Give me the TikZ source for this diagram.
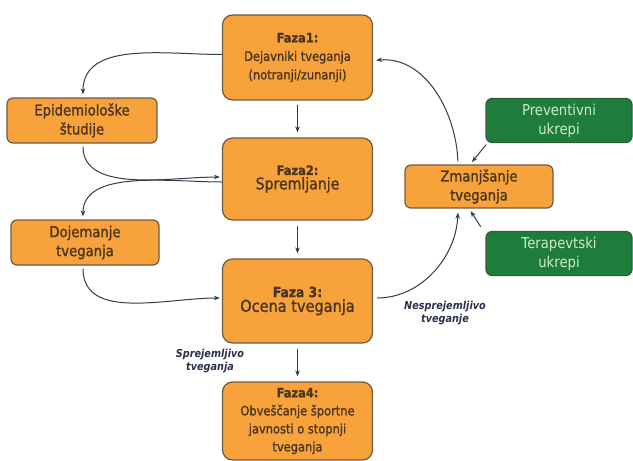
\documentclass[tikz,border=0pt]{standalone}
\usepackage{fontspec}
\setmainfont{DejaVu Sans}[FakeStretch=0.88]
\newfontfamily\boxfont{DejaVu Sans}[FakeStretch=0.88, FakeBold=1.2]
\usetikzlibrary{arrows.meta}
\definecolor{org}{HTML}{F7A23A}
\definecolor{orgborder}{HTML}{6E5B45}
\definecolor{grn}{HTML}{1F7D3B}
\definecolor{grnborder}{HTML}{2F5F3A}
\definecolor{grntext}{HTML}{CDEBC8}
\definecolor{txt}{HTML}{4A3522}
\definecolor{lin}{HTML}{333A4A}
\definecolor{lbl}{HTML}{2B2F48}
\begin{document}
\begin{tikzpicture}[x=1pt,y=-1pt,
  fazabox/.style={draw=orgborder, line width=1.2pt, fill=org, rounded corners=10pt,
    align=center, text=txt, inner sep=2pt, minimum width=150pt},
  sidebox/.style={draw=orgborder, line width=1.2pt, fill=org, rounded corners=6pt,
    align=center, text=txt, inner sep=2pt, minimum height=45pt,
    font=\boxfont\fontsize{15}{19}\selectfont},
  greenbox/.style={draw=grnborder, line width=1.2pt, fill=grn, rounded corners=6pt,
    align=center, text=grntext, inner sep=2pt, minimum width=146pt, minimum height=44pt,
    font=\fontsize{15}{19}\selectfont},
  conn/.style={draw=lin, line width=1pt, -{Stealth[length=6pt,width=4.5pt]}},
  lab/.style={text=lbl, align=center, font=\fontsize{11}{13.5}\selectfont\bfseries\itshape}
]
\useasboundingbox (0,0) rectangle (633,461);

% main phase boxes
\node[fazabox, minimum height=85pt, font=\boxfont\fontsize{13}{18.5}\selectfont] (f1) at (297.5,57.5)
  {\textbf{Faza1:}\\Dejavniki tveganja\\(notranji/zunanji)};
\node[fazabox, minimum height=82pt, font=\boxfont] (f2) at (297.5,179)
  {{\fontsize{13}{16}\selectfont\textbf{Faza2:}}\\[1pt]{\fontsize{16}{19}\selectfont Spremljanje}};
\node[fazabox, minimum height=84pt, font=\boxfont] (f3) at (297.5,301)
  {{\fontsize{14}{17}\selectfont\textbf{Faza 3:}}\\[1pt]{\fontsize{16.5}{19}\selectfont Ocena tveganja}};
\node[fazabox, minimum height=78pt, font=\boxfont\fontsize{13}{18}\selectfont] (f4) at (297.5,421)
  {\textbf{Faza4:}\\Obveščanje športne\\javnosti o stopnji\\tveganja};

% side boxes
\node[sidebox, minimum width=150pt] (epi) at (82,120.5) {Epidemiološke\\študije};
\node[sidebox, minimum width=148pt] (doj) at (85,242.5) {Dojemanje\\tveganja};
\node[sidebox, minimum width=148pt, minimum height=43pt] (zman) at (479,186.5) {Zmanjšanje\\tveganja};
\node[greenbox] (prev) at (559,120.5) {Preventivni\\ukrepi};
\node[greenbox] (ter) at (559,253.5) {Terapevtski\\ukrepi};

% vertical arrows
\draw[conn, shorten <=4pt, shorten >=5pt] (f1.south) -- (f2.north);
\draw[conn, shorten <=5pt, shorten >=5pt] (f2.south) -- (f3.north);
\draw[conn, shorten <=5pt, shorten >=5pt] (f3.south) -- (f4.north);

% left curved arrows
\draw[conn, shorten >=3pt] ([yshift=3pt]f1.west) to[out=180, in=90] ([xshift=1pt]epi.north);
\draw[conn, shorten <=3pt, shorten >=2pt] ([xshift=1pt]epi.south) to[out=-90, in=180, looseness=0.9] ([yshift=2pt]f2.west);
\draw[conn, shorten >=3pt] ([yshift=-3pt]f2.west) to[out=180, in=90, looseness=0.9] ([xshift=-2pt]doj.north);
\draw[conn, shorten <=3pt, shorten >=2pt] ([xshift=-2pt]doj.south) to[out=-90, in=180] ([yshift=3pt]f3.west);

% right curved arrows
\draw[conn, shorten <=3pt, shorten >=3pt] ([xshift=-21pt]zman.north) to[out=92, in=5] ([yshift=-3pt]f1.east);
\draw[conn, shorten <=4pt, shorten >=4pt] ([yshift=3pt]f3.east) to[out=0, in=-92] ([xshift=-21pt]zman.south);
\draw[conn, shorten <=2pt, shorten >=3pt] ([xshift=2pt]prev.south west) -- ([xshift=-9pt]zman.north);
\draw[conn, shorten <=5pt, shorten >=3pt] ([xshift=-2pt]ter.north west) -- ([xshift=-10pt]zman.south);

% labels
\node[lab] (nespr) at (445,313) {Nesprejemljivo\\tveganje};
\node[lab] (spr) at (210,361) {Sprejemljivo\\tveganja};
\end{tikzpicture}
\end{document}
